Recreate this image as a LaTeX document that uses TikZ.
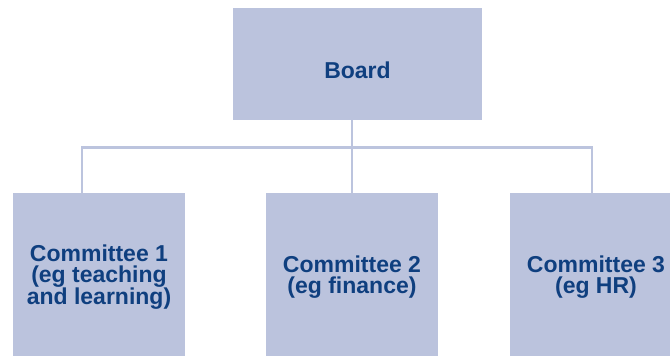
\documentclass[tikz,border=0pt]{standalone}
\usepackage{fontspec}
\setmainfont{Liberation Sans}

\definecolor{boxblue}{HTML}{BBC3DD}
\definecolor{textblue}{HTML}{0F3F7F}
\definecolor{lineblue}{HTML}{BCC4DE}

\tikzset{
	orgbox/.style={fill=boxblue, text=textblue, align=center, inner sep=0pt,
		font=\fontsize{23}{21}\selectfont\bfseries},
	orglink/.style={draw=lineblue, line width=2.8pt}
}

\begin{document}
\begin{tikzpicture}[x=1pt,y=1pt]
			\useasboundingbox (0,0) rectangle (670,-356);
			\clip (0,0) rectangle (670,-356);

			% board
			\node[orgbox, minimum width=249pt, minimum height=112.5pt,
				text height=28.5pt, text depth=0pt] (board) at (357.5,-63.75) {Board};

			% committees
			\node[orgbox, minimum width=172pt, minimum height=168pt] (com1) at (99,-277)
				{Committee 1\\(eg teaching\\and learning)};
			\node[orgbox, minimum width=172pt, minimum height=168pt] (com2) at (352,-277)
				{Committee 2\\(eg finance)};
			\node[orgbox, minimum width=172pt, minimum height=168pt] (com3) at (596,-277)
				{Committee 3\\(eg HR)};

			% connectors
			\coordinate (bus) at (0,-147.5);
			\coordinate (drop1) at ([xshift=-17pt]com1.north);
			\coordinate (drop3) at ([xshift=-4pt]com3.north);
			\draw[orglink]	(com2.north |- board.south) -- (com2.north);
			\draw[orglink]	(drop1) -- (drop1 |- bus) -- (drop3 |- bus) -- (drop3);
\end{tikzpicture}
\end{document}
